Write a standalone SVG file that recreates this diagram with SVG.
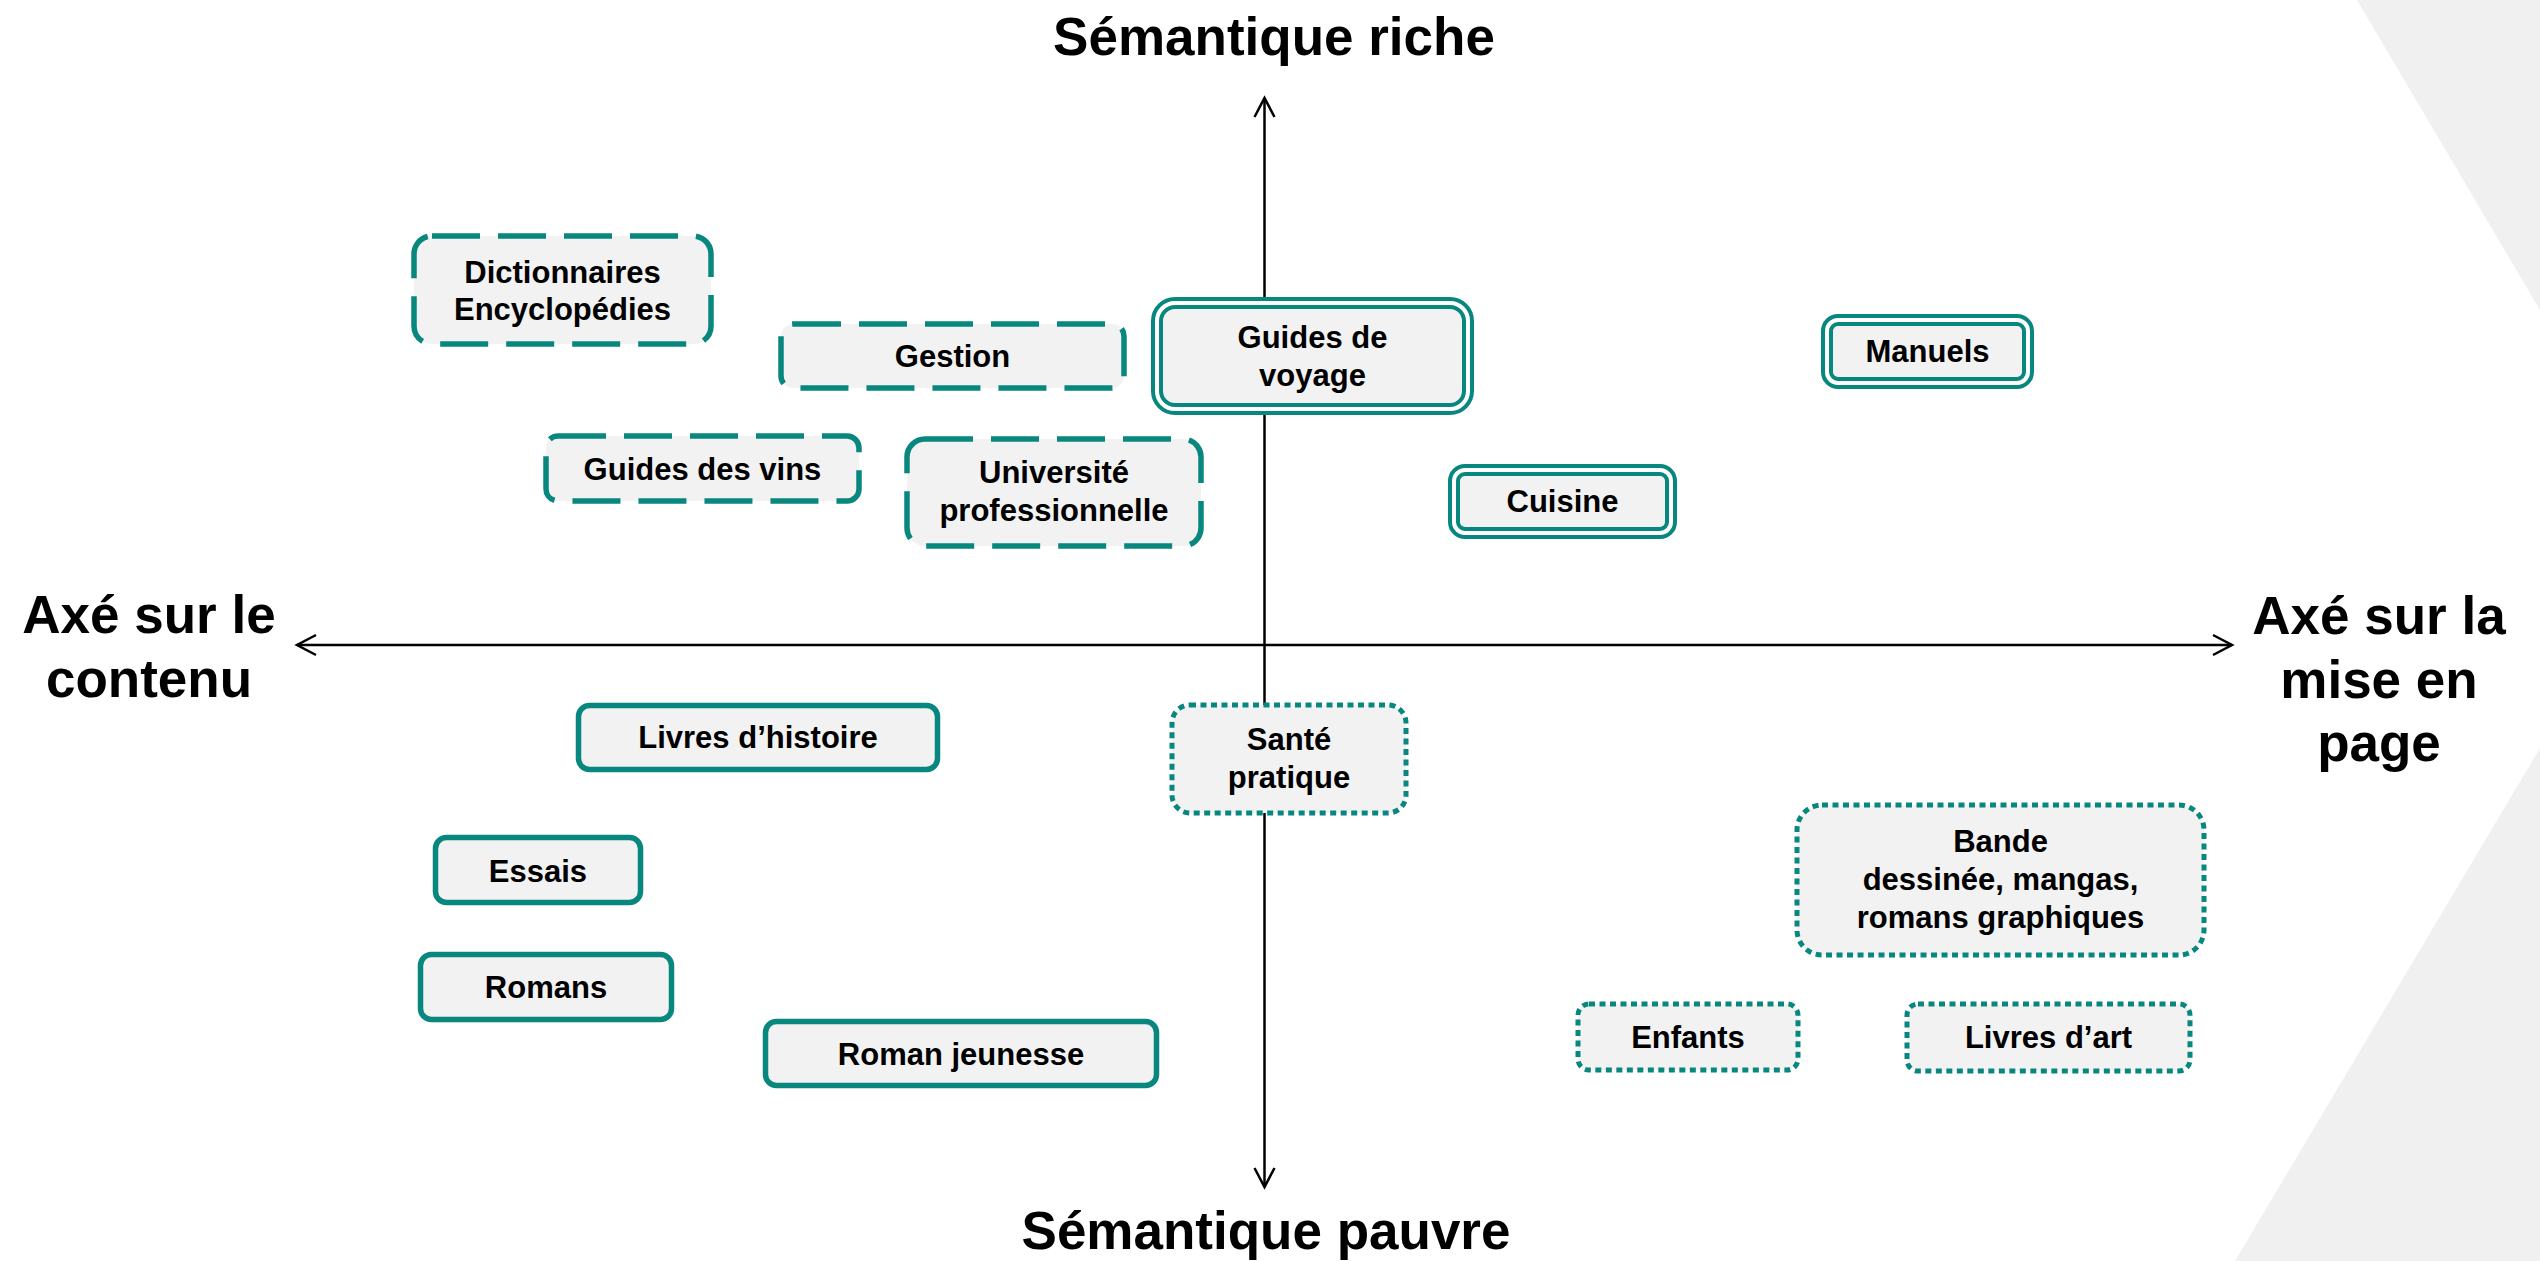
<svg xmlns="http://www.w3.org/2000/svg" width="2540" height="1261" viewBox="0 0 2540 1261">
<style>
.lbl{font-family:"Liberation Sans",Arial,sans-serif;font-weight:bold;font-size:31px;fill:#000;text-anchor:middle}
.axis{font-family:"Liberation Sans",Arial,sans-serif;font-weight:bold;font-size:53px;fill:#000;text-anchor:middle}
.box{fill:#F2F2F2;stroke:#08877F}
.dash{stroke-width:5.5;stroke-dasharray:48 18}
.dot{stroke-width:5;stroke-dasharray:6 4.5}
.solid{stroke-width:5.5}
.dbl{stroke-width:12}
.gap{fill:none;stroke:#FFFFFF;stroke-width:4}
.ax{stroke:#000;stroke-width:2.5;fill:none}
</style>
<defs>
<marker id="arr" viewBox="-2 -12 24 24" markerWidth="24" markerHeight="24" refX="19" refY="0" markerUnits="userSpaceOnUse" orient="auto-start-reverse" overflow="visible">
<path d="M0,-10 L19,0 L0,10" fill="none" stroke="#000" stroke-width="2.5"/>
</marker>
</defs>
<rect width="2540" height="1261" fill="#FFFFFF"/>
<polygon points="2357,0 2540,0 2540,310" fill="#F0F0F0"/>
<polygon points="2540,748 2540,1261 2235,1261" fill="#F0F0F0"/>

<g id="connectors">
<line class="ax" x1="1264.5" y1="98" x2="1264.5" y2="1187" marker-start="url(#arr)" marker-end="url(#arr)"/>
<line class="ax" x1="297" y1="645" x2="2232" y2="645" marker-start="url(#arr)" marker-end="url(#arr)"/>
</g>

<g id="axis-labels">
<text class="axis" x="1274" y="55">Sémantique riche</text>
<text class="axis" x="1266" y="1249">Sémantique pauvre</text>
<text class="axis" x="149" y="633">Axé sur le</text>
<text class="axis" x="149" y="697">contenu</text>
<text class="axis" x="2379" y="634">Axé sur la</text>
<text class="axis" x="2379" y="698">mise en</text>
<text class="axis" x="2379" y="761">page</text>
</g>

<g id="n-dictionnaires">
<rect class="box dash" x="414" y="236" width="297" height="108" rx="18"/>
<text class="lbl" x="562.5" y="283">Dictionnaires</text>
<text class="lbl" x="562.5" y="320">Encyclopédies</text>
</g>
<g id="n-gestion">
<rect class="box dash" x="781" y="324" width="343" height="64" rx="12"/>
<text class="lbl" x="952.5" y="367">Gestion</text>
</g>
<g id="n-vins">
<rect class="box dash" x="546" y="436" width="313" height="65" rx="12"/>
<text class="lbl" x="702.5" y="480">Guides des vins</text>
</g>
<g id="n-universite">
<rect class="box dash" x="907" y="439" width="294" height="107" rx="18"/>
<text class="lbl" x="1054" y="483">Université</text>
<text class="lbl" x="1054" y="521">professionnelle</text>
</g>

<g id="n-voyage">
<rect class="box dbl" x="1157" y="303" width="311" height="106" rx="18"/>
<rect class="gap" x="1157" y="303" width="311" height="106" rx="18"/>
<text class="lbl" x="1312.5" y="348">Guides de</text>
<text class="lbl" x="1312.5" y="386">voyage</text>
</g>
<g id="n-cuisine">
<rect class="box dbl" x="1454" y="470" width="217" height="63" rx="11"/>
<rect class="gap" x="1454" y="470" width="217" height="63" rx="11"/>
<text class="lbl" x="1562.5" y="512">Cuisine</text>
</g>
<g id="n-manuels">
<rect class="box dbl" x="1827" y="320" width="201" height="63" rx="11"/>
<rect class="gap" x="1827" y="320" width="201" height="63" rx="11"/>
<text class="lbl" x="1927.5" y="362">Manuels</text>
</g>

<g id="n-histoire">
<rect class="box solid" x="578.5" y="705.5" width="359" height="64" rx="11"/>
<text class="lbl" x="758" y="748">Livres d’histoire</text>
</g>
<g id="n-essais">
<rect class="box solid" x="435.5" y="837.5" width="205" height="65" rx="11"/>
<text class="lbl" x="538" y="882">Essais</text>
</g>
<g id="n-romans">
<rect class="box solid" x="420.5" y="954.5" width="251" height="65" rx="11"/>
<text class="lbl" x="546" y="998">Romans</text>
</g>
<g id="n-jeunesse">
<rect class="box solid" x="765.5" y="1021.5" width="391" height="64" rx="11"/>
<text class="lbl" x="961" y="1065">Roman jeunesse</text>
</g>

<g id="n-sante">
<rect class="box dot" x="1172" y="705" width="234" height="108" rx="18"/>
<text class="lbl" x="1289" y="750">Santé</text>
<text class="lbl" x="1289" y="788">pratique</text>
</g>
<g id="n-bd">
<rect class="box dot" x="1797" y="805" width="407" height="150" rx="25"/>
<text class="lbl" x="2000.5" y="852">Bande</text>
<text class="lbl" x="2000.5" y="890">dessinée, mangas,</text>
<text class="lbl" x="2000.5" y="928">romans graphiques</text>
</g>
<g id="n-enfants">
<rect class="box dot" x="1578" y="1004" width="220" height="66" rx="11"/>
<text class="lbl" x="1688" y="1048">Enfants</text>
</g>
<g id="n-art">
<rect class="box dot" x="1907" y="1004" width="283" height="67" rx="11"/>
<text class="lbl" x="2048.5" y="1048">Livres d’art</text>
</g>
</svg>
